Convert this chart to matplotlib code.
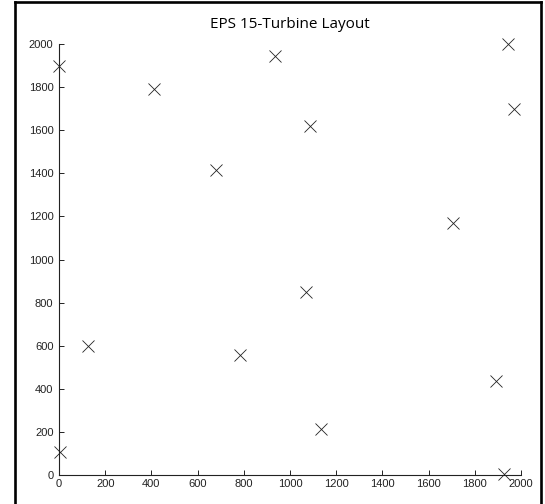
import matplotlib
matplotlib.use("Agg")
import matplotlib.pyplot as plt
from matplotlib.lines import Line2D

# turbine coordinates (m)
turbine_x = [5, 125, 411, 681, 782, 935, 1068, 1088, 1136, 1706, 1893, 1926, 1944, 1970, 2]
turbine_y = [105, 600, 1793, 1417, 557, 1943, 848, 1618, 213, 1169, 435, 5, 2000, 1700, 1898]

x_ticks = list(range(0, 2001, 200))
y_ticks = list(range(0, 2001, 200))

W, H = 545, 504
fig = plt.figure(figsize=(W / 100, H / 100), dpi=100)
fig.patch.set_facecolor("white")

ax = fig.add_axes([59 / W, (H - 475) / H, 462 / W, 431 / H])
ax.plot(turbine_x, turbine_y, linestyle="none", marker="x",
        markersize=8, markeredgewidth=0.6, color="#222222", clip_on=False)

ax.set_xlim(0, 2000)
ax.set_ylim(0, 2000)
ax.set_xticks(x_ticks)
ax.set_yticks(y_ticks)
ax.tick_params(direction="in", length=3.6, width=0.7, colors="#222222",
               labelsize=8, labelcolor="#222222")
ax.tick_params(axis="x", pad=3)
ax.tick_params(axis="y", pad=4)
for lab in ax.get_xticklabels() + ax.get_yticklabels():
    lab.set_family("Liberation Sans")

for side in ("top", "right"):
    ax.spines[side].set_visible(False)
for side in ("left", "bottom"):
    ax.spines[side].set_linewidth(0.8)
    ax.spines[side].set_color("#222222")

fig.text(290 / W, 1 - 25 / H, "EPS 15-Turbine Layout", ha="center", va="center",
         fontsize=11, family="Open Sans", color="black")

# outer frame (left, top, right edges)
frame_kw = dict(color="black", linewidth=1.9, transform=fig.transFigure)
fig.add_artist(Line2D([14.5 / W, 14.5 / W], [0, 1 - 2 / H], **frame_kw))
fig.add_artist(Line2D([14.5 / W, 541 / W], [1 - 2 / H, 1 - 2 / H], **frame_kw))
fig.add_artist(Line2D([541 / W, 541 / W], [0, 1 - 2 / H], **frame_kw))

fig.savefig("out.png", dpi=100)
